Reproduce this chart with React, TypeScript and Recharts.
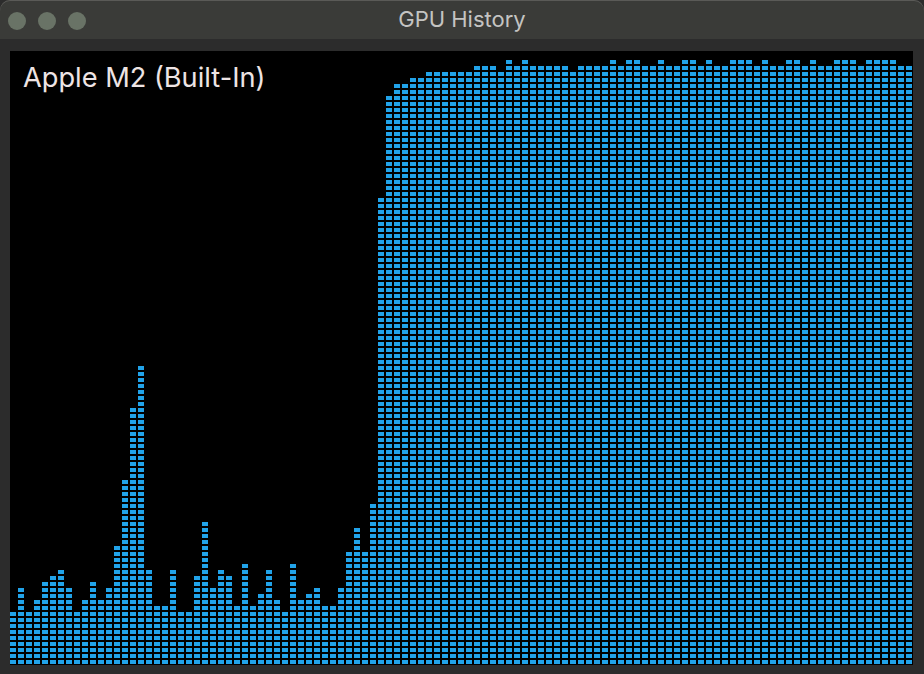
import React from "react";
import { BarChart, Bar, XAxis, YAxis } from "recharts";

// GPU usage history: number of lit segments in each time slot (oldest → newest)
const SLOTS: number[] = Array.from({ length: 113 }, (_, i) => i);
const SEGMENTS: number[] = [
  9, 13, 9, 11, 14, 15, 16, 13, 9, 11, 14, 11, 13, 20, 31, 43, 50, 16, 10, 10,
  16, 9, 9, 15, 24, 13, 16, 15, 10, 17, 10, 12, 16, 11, 9, 17, 11, 12, 13, 10,
  10, 13, 19, 23, 19, 27, 78, 95, 97, 97, 98, 98, 99, 99, 99, 99, 99, 99, 100, 100,
  100, 99, 101, 100, 101, 100, 100, 100, 100, 100, 99, 100, 100, 100, 100, 101, 100, 101, 101, 100,
  100, 101, 100, 100, 101, 101, 100, 101, 100, 100, 101, 101, 101, 100, 101, 100, 100, 101, 101, 100,
  101, 100, 100, 101, 101, 101, 100, 101, 101, 101, 101, 100, 100,
];
const GPU_NAME = "Apple M2 (Built-In)";
const WINDOW_TITLE = "GPU History";

const data = SLOTS.map((s, i) => ({ slot: s, segments: SEGMENTS[i] }));

const BLUE = "#21a3e9";

const SegmentedBar = (props: any) => {
  const { x, y, width, height, value } = props;
  const n = Math.round(Number(value));
  if (!n || !height) return <g />;
  const pitch = height / n;
  const bottom = y + height;
  const cells = [];
  for (let i = 0; i < n; i++) {
    cells.push(
      <rect
        key={i}
        x={x}
        y={bottom - pitch * (i + 1)}
        width={width}
        height={pitch - 2}
        fill={BLUE}
      />
    );
  }
  return <g>{cells}</g>;
};

export default function App() {
  return (
    <div
      style={{
        position: "absolute",
        left: 0,
        top: 0,
        width: 924,
        height: 674,
        background: "#2c2c2c",
        overflow: "hidden",
        fontFamily: "Inter, 'Open Sans', sans-serif",
      }}
    >
      {/* title bar */}
      <div
        style={{
          position: "absolute",
          left: 0,
          top: 0,
          width: 924,
          height: 39,
          background: "#3a3b38",
          borderTopLeftRadius: 10,
          borderTopRightRadius: 10,
          boxShadow: "inset 0 1px 0 #5a5a57",
        }}
      />
      {[17, 47, 77].map((cx) => (
        <div
          key={cx}
          style={{
            position: "absolute",
            left: cx - 9.3,
            top: 21 - 9.3,
            width: 18.6,
            height: 18.6,
            borderRadius: "50%",
            background: "#697366",
          }}
        />
      ))}
      <div
        style={{
          position: "absolute",
          left: 0,
          top: 0,
          width: 924,
          height: 39,
          lineHeight: "39px",
          textAlign: "center",
          color: "#c4c4c2",
          fontSize: 22,
        }}
      >
        {WINDOW_TITLE}
      </div>
      {/* black plot well */}
      <div
        style={{
          position: "absolute",
          left: 10,
          top: 51,
          width: 903,
          height: 614,
          background: "#000",
        }}
      />
      <div style={{ position: "absolute", left: 9, top: 51 }}>
        <BarChart
          width={904}
          height={615}
          data={data}
          margin={{ top: 0, right: 0, bottom: 0, left: 0 }}
          barCategoryGap={0}
        >
          <XAxis dataKey="slot" hide />
          <YAxis hide domain={[0, 102.5]} />
          <Bar
            dataKey="segments"
            barSize={6}
            isAnimationActive={false}
            shape={<SegmentedBar />}
          />
        </BarChart>
      </div>
      <div
        style={{
          position: "absolute",
          left: 23,
          top: 60,
          color: "#eee4e4",
          fontSize: 27.2,
          lineHeight: "36px",
        }}
      >
        {GPU_NAME}
      </div>
    </div>
  );
}
